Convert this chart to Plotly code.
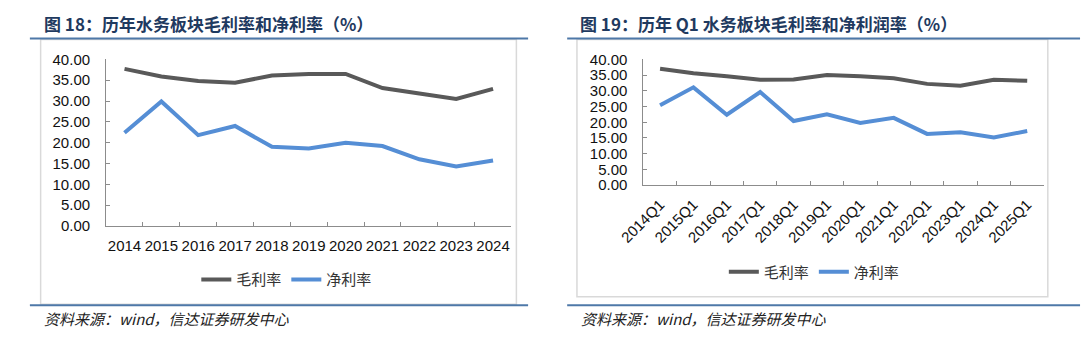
import plotly.graph_objects as go

# ---- data -------------------------------------------------------------
years = ["2014", "2015", "2016", "2017", "2018", "2019",
         "2020", "2021", "2022", "2023", "2024"]
gross_margin_year = [37.7, 35.9, 34.8, 34.4, 36.1, 36.5, 36.5, 33.1, 31.8, 30.5, 32.9]
net_margin_year = [22.4, 29.9, 21.8, 24.0, 19.0, 18.6, 20.0, 19.2, 16.0, 14.3, 15.7]

quarters = ["2014Q1", "2015Q1", "2016Q1", "2017Q1", "2018Q1", "2019Q1",
            "2020Q1", "2021Q1", "2022Q1", "2023Q1", "2024Q1", "2025Q1"]
gross_margin_q1 = [37.0, 35.6, 34.6, 33.5, 33.6, 35.0, 34.6, 34.0, 32.2, 31.6, 33.5, 33.2]
net_margin_q1 = [25.4, 31.1, 22.4, 29.6, 20.4, 22.5, 19.8, 21.4, 16.3, 16.8, 15.2, 17.2]

y_ticks = [0, 5, 10, 15, 20, 25, 30, 35, 40]

series_names = ["毛利率", "净利率"]
title_left = "图 18：历年水务板块毛利率和净利率（%）"
title_right = "图 19：历年 Q1 水务板块毛利率和净利润率（%）"
source_text = "资料来源：wind，信达证券研发中心"

# ---- styling ------------------------------------------------------------
W, H = 1082, 338
GRAY = "#595959"
BLUE = "#558ED5"
AXIS = "#8C8C8C"
RULE = "#4E78A8"
TITLE = "#1F3A60"
LATIN = "Liberation Sans, Arial, Noto Sans CJK SC"
CJK = "Noto Sans CJK SC, Liberation Sans"


def px_x(x):
    return x / W


def px_y(y):
    return 1 - y / H


fig = go.Figure()

panels = [
    ("x", "y", years, gross_margin_year, net_margin_year, "legend"),
    ("x2", "y2", quarters, gross_margin_q1, net_margin_q1, "legend2"),
]
for xa, ya, cats, gross, net, leg in panels:
    fig.add_trace(go.Scatter(x=cats, y=gross, mode="lines", name=series_names[0],
                             line=dict(color=GRAY, width=4), xaxis=xa, yaxis=ya,
                             legend=leg))
    fig.add_trace(go.Scatter(x=cats, y=net, mode="lines", name=series_names[1],
                             line=dict(color=BLUE, width=4), xaxis=xa, yaxis=ya,
                             legend=leg))

common_y = dict(range=[0, 40], tickvals=y_ticks, tickformat=".2f",
                showgrid=False, zeroline=False, showline=True, linecolor=AXIS,
                linewidth=1, ticks="inside", ticklen=4, tickcolor=AXIS,
                ticklabelstandoff=12,
                tickfont=dict(family=LATIN, size=15, color="#111111"))
common_x = dict(type="category", showgrid=False, zeroline=False, showline=True,
                linecolor=AXIS, linewidth=1, ticks="inside", ticklen=4,
                tickcolor=AXIS, tickson="boundaries",
                tickfont=dict(family=LATIN, size=15, color="#111111"))

legend_style = dict(orientation="h", xanchor="center", yanchor="middle",
                    font=dict(family=CJK, size=15, color="#333333"),
                    bgcolor="rgba(0,0,0,0)", itemwidth=30, tracegroupgap=0)

fig.update_layout(
    width=W, height=H, autosize=False,
    margin=dict(l=0, r=0, t=0, b=0),
    paper_bgcolor="white", plot_bgcolor="white",
    xaxis=dict(common_x, domain=[px_x(83), px_x(498)], anchor="y",
               range=[-0.5, len(years) - 0.5], tickangle=0,
               ticklabelstandoff=6),
    yaxis=dict(common_y, domain=[px_y(228.5), px_y(53)], anchor="x"),
    xaxis2=dict(common_x, domain=[px_x(633), px_x(1043)], anchor="y2",
                range=[-0.5, len(quarters) - 0.5], tickangle=-45,
                ticklabelstandoff=4),
    yaxis2=dict(common_y, domain=[px_y(185.5), px_y(53)], anchor="x2"),
    legend=dict(legend_style, x=px_x(268), y=px_y(285)),
    legend2=dict(legend_style, x=px_x(808), y=px_y(277)),
)

# frames around each panel and the blue rules above / below
shapes = [
    dict(type="rect", xref="paper", yref="paper", x0=px_x(16), x1=px_x(503),
         y0=px_y(311), y1=px_y(32), line=dict(color="#D9D9D9", width=1.5)),
    dict(type="rect", xref="paper", yref="paper", x0=px_x(565), x1=px_x(1047),
         y0=px_y(303), y1=px_y(32), line=dict(color="#D9D9D9", width=1.5)),
]
for x0, x1 in [(5, 515), (555, 1080)]:
    for yy in (31, 312):
        shapes.append(dict(type="line", xref="paper", yref="paper",
                           x0=px_x(x0), x1=px_x(x1), y0=px_y(yy), y1=px_y(yy),
                           line=dict(color=RULE, width=2)))
fig.update_layout(shapes=shapes)

annotations = [
    dict(text="<b>" + title_left + "</b>", x=px_x(17), y=px_y(15)),
    dict(text="<b>" + title_right + "</b>", x=px_x(566), y=px_y(15)),
]
for a in annotations:
    a.update(xref="paper", yref="paper", xanchor="left", yanchor="middle",
             showarrow=False, font=dict(family=CJK, size=17, color=TITLE))
for sx in (17, 567):
    annotations.append(dict(text=source_text, x=px_x(sx), y=px_y(326),
                            xref="paper", yref="paper", xanchor="left",
                            yanchor="middle", showarrow=False,
                            font=dict(family=CJK, size=15, color="#222222",
                                      style="italic")))
fig.update_layout(annotations=annotations)

# the page body keeps no default margin so the figure sits at the top-left corner
fig.write_html("out.html", post_script="document.body.style.margin = '0';")
